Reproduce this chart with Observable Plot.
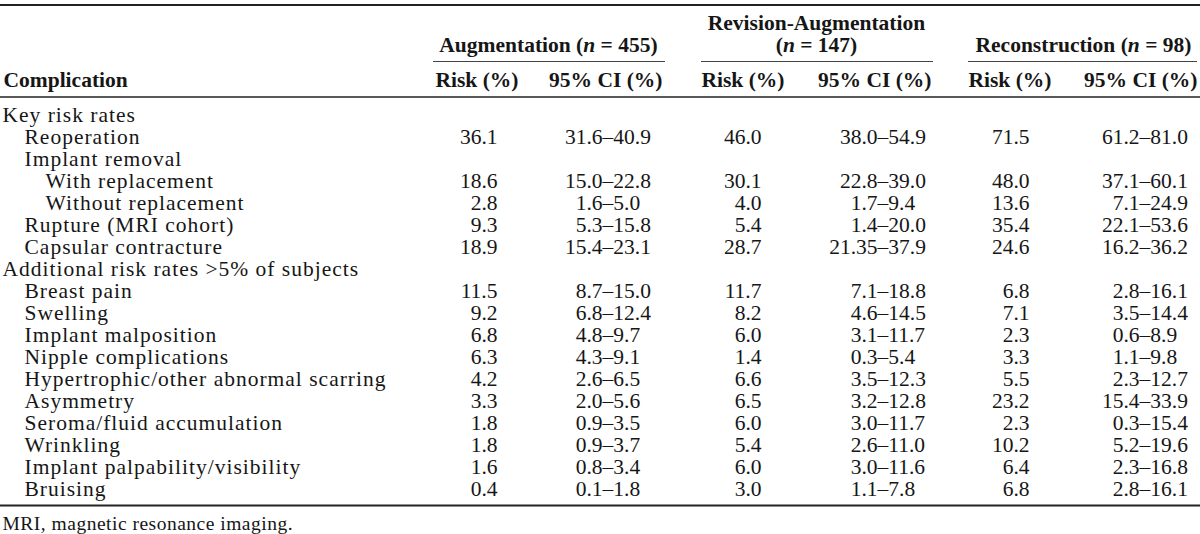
<!DOCTYPE html>
<html><head><meta charset="utf-8">
<script src="https://cdn.jsdelivr.net/npm/d3@7"></script>
<script src="https://cdn.jsdelivr.net/npm/@observablehq/plot@0.6"></script>
<style>html,body{margin:0;padding:0;background:#fff;} #chart{width:1200px;height:534px;overflow:hidden;}</style>
</head><body><div id="chart"></div>
<script>
// ---------- DATA ----------
const complications = [
  "Key risk rates",
  "Reoperation",
  "Implant removal",
  "With replacement",
  "Without replacement",
  "Rupture (MRI cohort)",
  "Capsular contracture",
  "Additional risk rates >5% of subjects",
  "Breast pain",
  "Swelling",
  "Implant malposition",
  "Nipple complications",
  "Hypertrophic/other abnormal scarring",
  "Asymmetry",
  "Seroma/fluid accumulation",
  "Wrinkling",
  "Implant palpability/visibility",
  "Bruising"
];
const levels = [0, 1, 1, 2, 2, 1, 1, 0, 1, 1, 1, 1, 1, 1, 1, 1, 1, 1];

const augRisk = ["", "36.1", "", "18.6", "2.8", "9.3", "18.9", "", "11.5", "9.2", "6.8", "6.3", "4.2", "3.3", "1.8", "1.8", "1.6", "0.4"];
const augCI   = ["", "31.6–40.9", "", "15.0–22.8", "1.6–5.0", "5.3–15.8", "15.4–23.1", "", "8.7–15.0", "6.8–12.4", "4.8–9.7", "4.3–9.1", "2.6–6.5", "2.0–5.6", "0.9–3.5", "0.9–3.7", "0.8–3.4", "0.1–1.8"];
const revRisk = ["", "46.0", "", "30.1", "4.0", "5.4", "28.7", "", "11.7", "8.2", "6.0", "1.4", "6.6", "6.5", "6.0", "5.4", "6.0", "3.0"];
const revCI   = ["", "38.0–54.9", "", "22.8–39.0", "1.7–9.4", "1.4–20.0", "21.35–37.9", "", "7.1–18.8", "4.6–14.5", "3.1–11.7", "0.3–5.4", "3.5–12.3", "3.2–12.8", "3.0–11.7", "2.6–11.0", "3.0–11.6", "1.1–7.8"];
const recRisk = ["", "71.5", "", "48.0", "13.6", "35.4", "24.6", "", "6.8", "7.1", "2.3", "3.3", "5.5", "23.2", "2.3", "10.2", "6.4", "6.8"];
const recCI   = ["", "61.2–81.0", "", "37.1–60.1", "7.1–24.9", "22.1–53.6", "16.2–36.2", "", "2.8–16.1", "3.5–14.4", "0.6–8.9", "1.1–9.8", "2.3–12.7", "15.4–33.9", "0.3–15.4", "5.2–19.6", "2.3–16.8", "2.8–16.1"];

const groupNames = ["Augmentation (n = 455)", "Revision-Augmentation\n(n = 147)", "Reconstruction (n = 98)"];
const colHeaders = ["Risk (%)", "95% CI (%)"];
const stubHeader = "Complication";
const footnote = "MRI, magnetic resonance imaging.";

// ---------- LAYOUT ----------
const W = 1200, H = 534;
const rowPitch = 21.95, firstRowPx = 115;
const toRow = px => (px - firstRowPx) / rowPitch;     // header/rule positions in row units
const indentX = [2, 24, 45];
const riskRight = [497, 761, 1029];
const dashX = [602, 877, 1139];
const riskHeadLeft = [435, 701, 968];
const ciHeadRight = [662, 931, 1197];
const groupCenter = [548, 816, 1083];
const groupRule = [[433, 665], [701, 933], [968, 1197]];
const FONT = "'Liberation Serif', 'Times New Roman', serif";
const FS = 21.5;
const INK = "#161616";

const risks = [augRisk, revRisk, recRisk];
const cis = [augCI, revCI, recCI];

const rows = complications.map((label, i) => ({
  i, label, level: levels[i],
  risk: risks.map(a => a[i]),
  ci: cis.map(a => a[i])
}));

const groupHeaderRow = toRow(45);
const groupLines = groupNames.flatMap((g, k) => {
  const lines = g.split("\n");
  return lines.map((t, j) => ({k, text: t, row: groupHeaderRow - (lines.length - 1 - j)}));
});
const subHeadRow = toRow(80);

const common = {fontFamily: FONT, fontSize: FS, fill: INK};

const marks = [];
// rules
marks.push(Plot.ruleY([toRow(4.5)], {x1: 0, x2: W, stroke: "#222", strokeWidth: 2}));
marks.push(Plot.ruleY([toRow(96.5)], {x1: 0, x2: W, stroke: "#222", strokeWidth: 1.6}));
marks.push(Plot.ruleY([toRow(505)], {x1: 0, x2: W, stroke: "#222", strokeWidth: 2}));
marks.push(Plot.ruleY(groupRule, {y: () => toRow(61), x1: d => d[0], x2: d => d[1], stroke: "#444", strokeWidth: 1.2}));

// header texts
marks.push(Plot.text([stubHeader], {x: () => indentX[0] + 1, y: () => subHeadRow, text: d => d, textAnchor: "start", fontWeight: "bold", ...common}));
marks.push(Plot.text(groupLines, {x: d => groupCenter[d.k], y: "row", text: "text", textAnchor: "middle", fontWeight: "bold", ...common}));
marks.push(Plot.text([0, 1, 2], {x: k => riskHeadLeft[k], y: () => subHeadRow, text: () => colHeaders[0], textAnchor: "start", fontWeight: "bold", ...common}));
marks.push(Plot.text([0, 1, 2], {x: k => ciHeadRight[k], y: () => subHeadRow, text: () => colHeaders[1], textAnchor: "end", fontWeight: "bold", ...common}));

// row labels
marks.push(Plot.text(rows, {x: d => indentX[d.level], y: "i", text: "label", textAnchor: "start", ...common}));

// values
for (let g = 0; g < 3; g++) {
  const withVals = rows.filter(d => d.risk[g] !== "");
  marks.push(Plot.text(withVals, {x: () => riskRight[g], y: "i", text: d => d.risk[g], textAnchor: "end", ...common}));
  marks.push(Plot.text(withVals, {x: () => dashX[g], y: "i", text: d => d.ci[g].split("–")[0], textAnchor: "end", ...common}));
  marks.push(Plot.text(withVals, {x: () => dashX[g], y: "i", text: d => "–" + d.ci[g].split("–")[1], textAnchor: "start", ...common}));
}

// footnote
marks.push(Plot.text([footnote], {x: () => indentX[0], y: () => toRow(523), text: d => d, textAnchor: "start", ...common, fontSize: 19.5}));

const chart = Plot.plot({
  width: W, height: H,
  margin: 0,
  style: {background: "#fff", fontFamily: FONT},
  x: {type: "linear", domain: [0, W], range: [0, W], axis: null},
  y: {type: "linear", domain: [toRow(0), toRow(H)], range: [0, H], axis: null},
  marks
});

// wider tracking for stub labels (reference face is broader than the available serif)
const labelSet = new Set(complications);
d3.select(chart).selectAll("text").each(function () {
  const t = this.textContent;
  if (labelSet.has(t)) this.setAttribute("letter-spacing", "1");
  else if (t === footnote) this.setAttribute("letter-spacing", "0.5");
});

// italicise the "n" in group headers
d3.select(chart).selectAll("text").each(function () {
  const t = this.textContent;
  const m = t.match(/^(.*\()n( = .*)$/);
  if (m) {
    const sel = d3.select(this);
    sel.text(null);
    sel.append("tspan").text(m[1]);
    sel.append("tspan").attr("font-style", "italic").text("n");
    sel.append("tspan").text(m[2]);
  }
});

document.getElementById("chart").appendChild(chart);
</script>
</body></html>
